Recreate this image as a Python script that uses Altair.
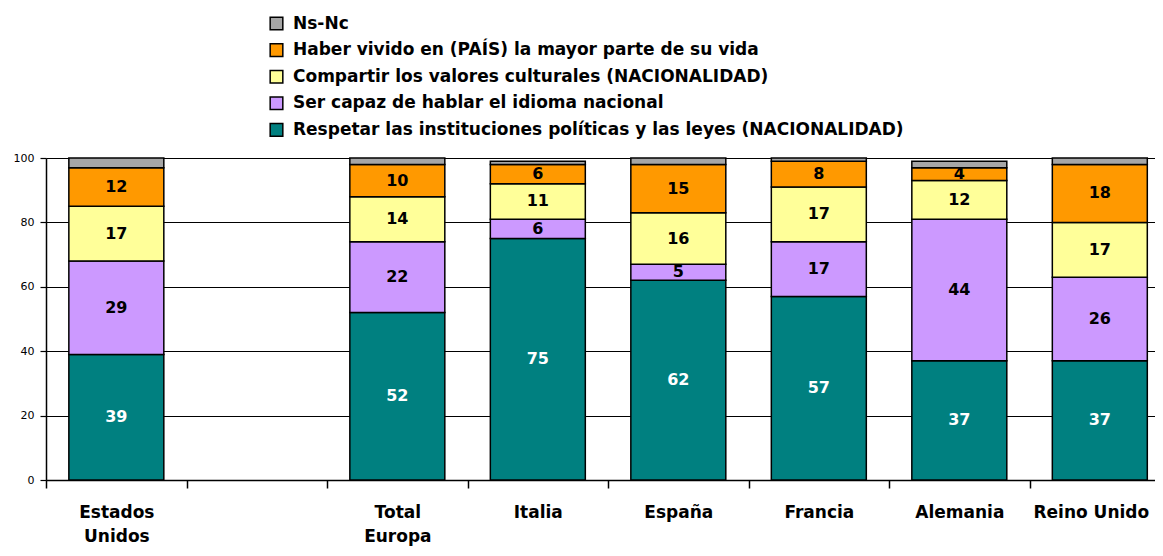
import altair as alt
import pandas as pd

categories = ["Estados Unidos", "Total Europa", "Italia", "España", "Francia", "Alemania", "Reino Unido"]
domain_cats = ["Estados Unidos", "gap", "Total Europa", "Italia", "España", "Francia", "Alemania", "Reino Unido"]

series = [
    "Ns-Nc",
    "Haber vivido en (PAÍS) la mayor parte de su vida",
    "Compartir los valores culturales (NACIONALIDAD)",
    "Ser capaz de hablar el idioma nacional",
    "Respetar las instituciones políticas y las leyes (NACIONALIDAD)",
]
colors = ["#A6A6A6", "#FF9900", "#FFFF99", "#CC99FF", "#008080"]

respetar = [39, 52, 75, 62, 57, 37, 37]
hablar = [29, 22, 6, 5, 17, 44, 26]
compartir = [17, 14, 11, 16, 17, 12, 17]
haber = [12, 10, 6, 15, 8, 4, 18]
nsnc = [3, 2, 1, 2, 1, 2, 2]

values_by_series = {
    series[4]: respetar,
    series[3]: hablar,
    series[2]: compartir,
    series[1]: haber,
    series[0]: nsnc,
}
stack_order = {series[4]: 0, series[3]: 1, series[2]: 2, series[1]: 3, series[0]: 4}

rows = []
for s, vals in values_by_series.items():
    for c, v in zip(categories, vals):
        rows.append({"cat": c, "serie": s, "value": v, "ord": stack_order[s]})
df = pd.DataFrame(rows)

FONT = "DejaVu Sans"
W = 1109
step = 140.5

xscale = alt.Scale(domain=domain_cats, paddingInner=0.324, paddingOuter=0.1087, align=0.748)

label_expr = ("datum.value == 'Estados Unidos' ? ['Estados', 'Unidos'] : "
              "datum.value == 'Total Europa' ? ['Total', 'Europa'] : "
              "datum.value == 'gap' ? '' : datum.label")

base = alt.Chart(df)

bars = base.mark_bar(stroke="black", strokeWidth=1.5).encode(
    x=alt.X("cat:N", scale=xscale, title=None,
            axis=alt.Axis(labelExpr=label_expr, labelAngle=0, bandPosition=0.5,
                          tickOffset=-step / 2,
                          labelOffset={"condition": {"test": "datum.value === 'Reino Unido'", "value": step / 2 - 9},
                                       "value": step / 2},
                          tickSize=8, tickColor="black", tickWidth=1.5,
                          domainColor="black", domainWidth=1.5,
                          labelFont=FONT, labelFontSize=17, labelFontWeight="bold",
                          labelColor="black", labelPadding=16, labelLineHeight=24,
                          labelOverlap=False, labelBound=False, grid=False)),
    y=alt.Y("value:Q", stack="zero", scale=alt.Scale(domain=[0, 100], nice=False), title=None,
            axis=alt.Axis(values=[0, 20, 40, 60, 80, 100], grid=True, gridColor="black", gridWidth=1.2,
                          tickSize=6, tickColor="black", tickWidth=1.2, domainColor="black", domainWidth=1.5,
                          labelFont=FONT, labelFontSize=11, labelColor="black", labelPadding=6)),
    color=alt.Color("serie:N", scale=alt.Scale(domain=series, range=colors),
                    legend=alt.Legend(title=None, orient="none", legendX=222, legendY=-143,
                                      symbolType="square", symbolSize=160, symbolStrokeColor="black",
                                      symbolStrokeWidth=1.5, labelFont=FONT, labelFontSize=17,
                                      labelFontWeight="bold", labelColor="black", labelOffset=8,
                                      rowPadding=7.6, labelLimit=900)),
    order=alt.Order("ord:Q"),
)

labels = base.transform_filter(
    alt.datum.serie != "Ns-Nc"
).transform_stack(
    stack="value", groupby=["cat"], as_=["y0", "y1"], sort=[alt.SortField("ord", order="ascending")]
).transform_calculate(
    mid="(datum.y0 + datum.y1) / 2"
).mark_text(font=FONT, fontSize=16, fontWeight="bold", baseline="middle").encode(
    x=alt.X("cat:N", scale=xscale),
    y=alt.Y("mid:Q"),
    text=alt.Text("value:Q"),
    color=alt.condition(alt.datum.ord == 0, alt.value("white"), alt.value("black")),
)

chart = alt.layer(bars, labels).properties(
    width=W, height=322,
    autosize=alt.AutoSizeParams(type="none"),
    padding={"left": 38, "top": 150, "right": 0, "bottom": 68},
).configure_view(stroke=None)

chart.save("out.html", embed_options={"renderer": "svg", "actions": False})
